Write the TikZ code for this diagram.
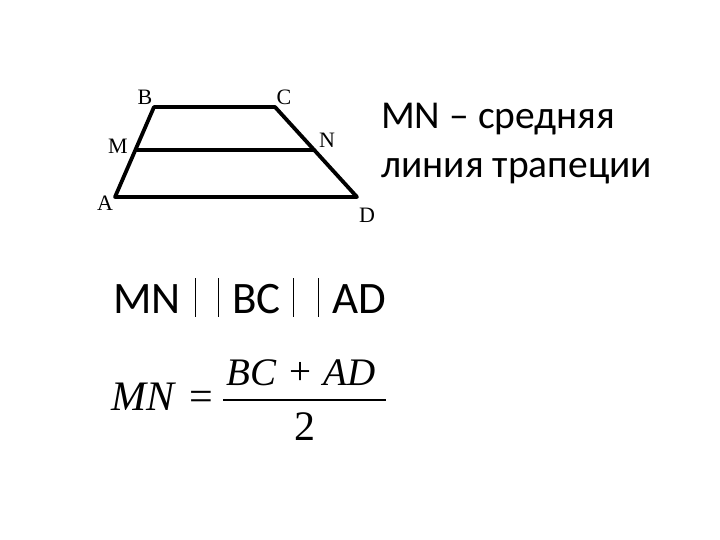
\documentclass[tikz,border=0pt]{standalone}
\usepackage{fontspec}
\setmainfont{Liberation Serif}
\newfontfamily\carlitofam{Carlito}
\newfontfamily\tnrfam{Liberation Serif}
\begin{document}
\begin{tikzpicture}[x=1pt,y=-1pt,
  edge/.style={line width=3.8pt,line cap=round,line join=round},
  vlab/.style={font=\tnrfam\fontsize{22}{22}\selectfont,inner sep=0pt},
  ctext/.style={font=\carlitofam\fontsize{39.5}{39.5}\selectfont,inner sep=0pt,anchor=base west},
  btext/.style={font=\carlitofam\fontsize{45}{45}\selectfont,inner sep=0pt,anchor=base west},
  ftext/.style={font=\tnrfam\fontsize{42}{42}\selectfont,inner sep=0pt,anchor=base west},
  ntext/.style={font=\tnrfam\fontsize{39}{39}\selectfont,inner sep=0pt,anchor=base west},
  bar/.style={line width=0.8pt}]
\useasboundingbox (0,0) rectangle (720,540);
\coordinate (A) at (115,197);
\coordinate (B) at (154,107);
\coordinate (C) at (275,107);
\coordinate (D) at (357,197);
\coordinate (M) at (136,150);
\coordinate (N) at (314,150);
\draw[edge] (A) -- (B) -- (C) -- (D) -- cycle;
\draw[edge] (M) -- (N);
\node[vlab] (lB) at (145,97) {B};
\node[vlab] (lC) at (284,97) {C};
\node[vlab] (lM) at (118,146) {M};
\node[vlab] (lN) at (327,140) {N};
\node[vlab] (lA) at (105,203) {A};
\node[vlab] (lD) at (367,215) {D};
\node[ctext] (t1) at (381,129) {MN – средняя};
\node[ctext] (t2) at (381,178) {линия трапеции};
\node[btext] (p1) at (113,313) {MN};
\node[btext] (p2) at (232,313) {BC};
\node[btext] (p3) at (332,313) {AD};
\draw[bar] (195,278) -- (195,317);
\draw[bar] (218,278) -- (218,317);
\draw[bar] (293,278) -- (293,317);
\draw[bar] (318,278) -- (318,317);
\node[ftext] (f1) at (111,410) {\itshape MN};
\node[ftext] (f2) at (189,410) {=};
\draw[line width=2pt] (223,400) -- (386,400);
\node[ntext] (f3) at (226,385) {\itshape BC};
\node[ntext,anchor=center] (f4) at (300,373) {+};
\node[ntext] (f5) at (323,385) {\itshape AD};
\node[ftext] (f6) at (294,440) {2};
\end{tikzpicture}
\end{document}
